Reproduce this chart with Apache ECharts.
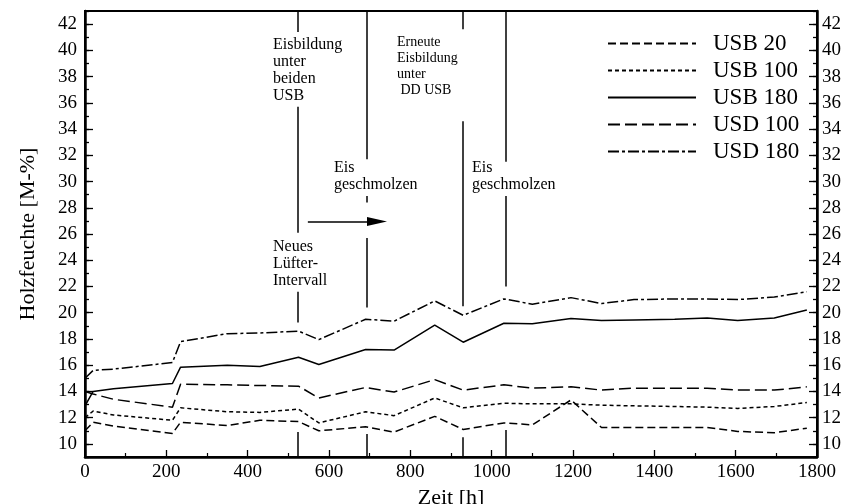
<!DOCTYPE html>
<html><head><meta charset="utf-8">
<script src="https://cdn.jsdelivr.net/npm/echarts@6/dist/echarts.min.js"></script>
<style>html,body{margin:0;padding:0;background:#fff}#c{width:845px;height:504px}</style>
</head><body><div id="c"></div>
<script>
// ---- data ----
const hours  = [0, 20, 70, 215, 235, 350, 430, 525, 575, 690, 760, 860, 930, 1030, 1100, 1195, 1270, 1350, 1450, 1530, 1605, 1695, 1775];
const usb20  = [11.0, 11.65, 11.35, 10.8, 11.65, 11.4, 11.8, 11.7, 11.0, 11.3, 10.9, 12.1, 11.1, 11.6, 11.45, 13.35, 11.25, 11.25, 11.25, 11.25, 10.95, 10.85, 11.2];
const usb100 = [12.0, 12.5, 12.2, 11.8, 12.75, 12.45, 12.4, 12.65, 11.6, 12.45, 12.15, 13.5, 12.75, 13.1, 13.05, 13.05, 12.95, 12.9, 12.85, 12.8, 12.7, 12.85, 13.15];
const usb180 = [12.9, 14.0, 14.2, 14.6, 15.85, 16.0, 15.9, 16.6, 16.05, 17.2, 17.15, 19.05, 17.75, 19.2, 19.15, 19.55, 19.4, 19.45, 19.5, 19.6, 19.4, 19.6, 20.2];
const usd100 = [14.0, 13.8, 13.4, 12.8, 14.55, 14.5, 14.45, 14.4, 13.5, 14.3, 13.95, 14.9, 14.1, 14.5, 14.25, 14.35, 14.1, 14.25, 14.25, 14.25, 14.1, 14.1, 14.35];
const usd180 = [15.0, 15.6, 15.7, 16.2, 17.8, 18.4, 18.45, 18.6, 17.95, 19.5, 19.35, 20.9, 19.8, 21.05, 20.65, 21.15, 20.7, 21.0, 21.05, 21.05, 21.0, 21.2, 21.6];
const seriesNames = ['USB 20', 'USB 100', 'USB 180', 'USD 100', 'USD 180'];
const xTickLabels = [0, 200, 400, 600, 800, 1000, 1200, 1400, 1600, 1800];
const yTickLabels = [10, 12, 14, 16, 18, 20, 22, 24, 26, 28, 30, 32, 34, 36, 38, 40, 42];
const eventHours = [524, 693, 930, 1035];

// ---- styles ----
const FONT = 'Liberation Serif';
const dashes = [[8, 4], [4, 3], 'solid', [12, 5], [11, 3, 3, 3]];
const values = [usb20, usb100, usb180, usd100, usd180];

const series = seriesNames.map((name, i) => ({
  name, type: 'line', symbol: 'none', animation: false,
  data: hours.map((h, j) => [h, values[i][j]]),
  lineStyle: { color: '#000', width: 1.5, type: dashes[i] },
  itemStyle: { color: '#000' },
  emphasis: { disabled: true }
}));

// vertical event lines (broken where the annotation text sits) + bottom tick marks
const evSegments = [
  [[43, 41.4], [35.7, 26.1], [21.6, 19.25], [10.9, 9]],
  [[43, 31.7], [28.9, 28.4], [25.7, 20.4], [10.75, 9]],
  [[43, 41.6], [34.6, 20.5], [10.5, 9]],
  [[43, 31.5], [28.9, 22.0], [11.05, 9]]
];
const mlData = [];
eventHours.forEach((h, i) => evSegments[i].forEach(s => mlData.push([{ coord: [h, s[0]] }, { coord: [h, s[1]] }])));
mlData.push([{ coord: [548, 26.95], symbol: 'none' }, { coord: [718, 26.95], symbol: 'triangle', symbolSize: [9, 20] }]);

series.push({
  name: 'events', type: 'line', data: [], animation: false,
  markLine: {
    silent: true, animation: false, symbol: ['none', 'none'],
    label: { show: false }, emphasis: { disabled: true },
    lineStyle: { color: '#000', width: 1.5, type: 'solid' },
    itemStyle: { color: '#000' },
    data: mlData
  }
});

const allInts = []; for (let v = 9; v <= 43; v++) allInts.push(v);
const lbl = { fontFamily: FONT, fontSize: 19, color: '#000', formatter: v => String(v) };
function yAx(pos, labels, long) {
  return {
    type: 'value', min: 9, max: 43, interval: 1, position: pos,
    axisLine: { show: !long, lineStyle: { color: '#000', width: 2.5 } },
    axisTick: { show: true, inside: true, length: long ? 8 : 4, customValues: long ? yTickLabels : allInts,
                lineStyle: { color: '#000', width: 1.3 } },
    axisLabel: labels ? Object.assign({ customValues: yTickLabels, margin: pos === 'left' ? 8 : 5 }, lbl) : { show: false },
    splitLine: { show: false }
  };
}
const yAxes = [yAx('left', true, false), yAx('left', false, true), yAx('right', true, false), yAx('right', false, true)];
yAxes[0].name = 'Holzfeuchte [M-%]';
yAxes[0].nameLocation = 'middle';
yAxes[0].nameGap = 46;
yAxes[0].nameTextStyle = { fontFamily: FONT, fontSize: 22, color: '#000' };

const option = {
  backgroundColor: '#fff',
  animation: false,
  grid: { left: 85, right: 28, top: 11, bottom: 47, show: true, borderColor: '#000', borderWidth: 2, outerBoundsMode: 'none' },
  legend: {
    data: seriesNames, orient: 'vertical', left: 602, top: 27,
    itemWidth: 88, itemHeight: 14, itemGap: 4, selectedMode: false,
    itemStyle: { opacity: 0 },
    textStyle: { fontFamily: FONT, fontSize: 23, color: '#000', lineHeight: 23, padding: [0, 0, 0, 12] }
  },
  xAxis: [{
    type: 'value', min: 0, max: 1800, interval: 200, position: 'bottom',
    axisLine: { lineStyle: { color: '#000', width: 2.5 } },
    axisTick: { inside: true, length: 7, lineStyle: { color: '#000', width: 1.3 } },
    minorTick: { show: true, splitNumber: 2, length: 4, lineStyle: { color: '#000', width: 1.2 } },
    axisLabel: Object.assign({ margin: 6, customValues: xTickLabels }, lbl),
    splitLine: { show: false },
    name: 'Zeit [h]', nameLocation: 'middle', nameGap: 28,
    nameTextStyle: { fontFamily: FONT, fontSize: 22, color: '#000' }
  }],
  yAxis: yAxes,
  graphic: [
    { type: 'text', left: 273, top: 36, style: { text: 'Eisbildung\nunter\nbeiden\nUSB', font: '16px "Liberation Serif"', lineHeight: 17, fill: '#000' } },
    { type: 'text', left: 273, top: 238, style: { text: 'Neues\nLüfter-\nIntervall', font: '16px "Liberation Serif"', lineHeight: 17, fill: '#000' } },
    { type: 'text', left: 334, top: 159, style: { text: 'Eis\ngeschmolzen', font: '16px "Liberation Serif"', lineHeight: 17, fill: '#000' } },
    { type: 'text', left: 397, top: 34, style: { text: 'Erneute\nEisbildung\nunter\n DD USB', font: '14px "Liberation Serif"', lineHeight: 16, fill: '#000' } },
    { type: 'text', left: 472, top: 159, style: { text: 'Eis\ngeschmolzen', font: '16px "Liberation Serif"', lineHeight: 17, fill: '#000' } }
  ],
  series
};
const chart = echarts.init(document.getElementById('c'), null, { renderer: 'canvas' });
chart.setOption(option);
</script>
</body></html>
